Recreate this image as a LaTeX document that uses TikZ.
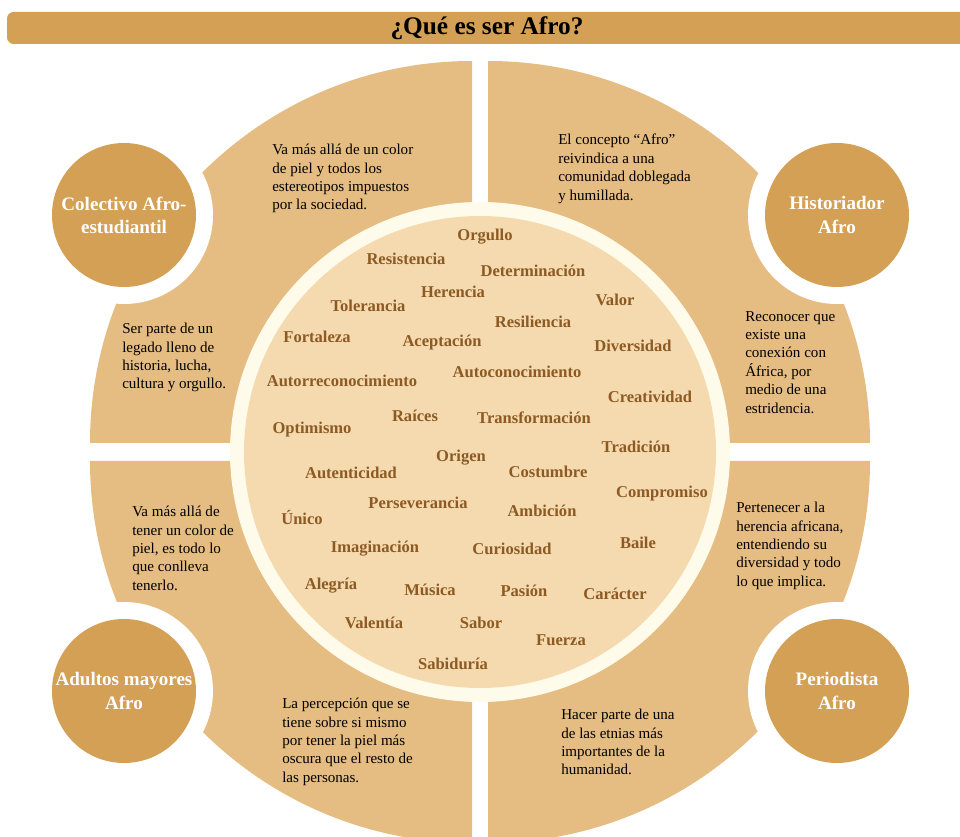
\documentclass[tikz,border=0pt]{standalone}
\usepackage{fontspec}
\setmainfont{Liberation Serif}
\definecolor{barcol}{HTML}{D4A055}
\definecolor{quadcol}{HTML}{E5BC82}
\definecolor{diskcol}{HTML}{F5DAB0}
\definecolor{ringcol}{HTML}{FFFBEA}
\definecolor{wordcol}{HTML}{8C5A22}
\begin{document}
\begin{tikzpicture}[x=0.75pt,y=0.75pt,
  badge/.style={circle,fill=barcol,minimum size=108pt,inner sep=0,text=white,align=center,
    font=\bfseries\fontsize{14.3}{17.3}\selectfont},
  word/.style={font=\bfseries\fontsize{12.4}{14}\selectfont,text=wordcol,inner sep=0},
  note/.style={font=\fontsize{11.3}{13.8}\selectfont,align=left,anchor=north west,inner sep=0}]
   \useasboundingbox (0,0) rectangle (960,-837);
   \clip (0,0) rectangle (960,-837);
   % title bar
   \fill[barcol,rounded corners=5] (7,-12) rectangle (975,-44);
   \node[font=\bfseries\fontsize{19}{22}\selectfont] (title) at (487,-28) {¿Qué es ser Afro?};
   % four quarters
   \fill[quadcol] (472,-443) -- (90,-443) arc[start angle=180,end angle=90,radius=382] -- cycle;
   \fill[quadcol] (488,-443) -- (488,-61) arc[start angle=90,end angle=0,radius=382] -- cycle;
   \fill[quadcol] (472,-461) -- (90,-461) arc[start angle=180,end angle=270,radius=382] -- cycle;
   \fill[quadcol] (488,-461) -- (870,-461) arc[start angle=0,end angle=-90,radius=382] -- cycle;
   % centre disc
   \fill[ringcol] (480,-452) circle (250);
   \fill[diskcol] (480,-452) circle (236);
   % side circles
   \foreach \x/\y in {124/215, 837/215, 124/691, 837/691}
     \fill[white] (\x,-\y) circle (89);
   \node[badge] (colectivo) at (124,-215) {Colectivo Afro-\\estudiantil};
   \node[badge] (historiador) at (837,-215) {Historiador\\Afro};
   \node[badge] (adultos) at (124,-691) {Adultos mayores\\Afro};
   \node[badge] (periodista) at (837,-691) {Periodista\\Afro};
   % texts
   \node[note] (tlA) at (272,-144) {Va más allá de un color\\de piel  y todos los\\estereotipos impuestos\\por la sociedad.};
   \node[note] (tlB) at (122,-323) {Ser parte de un\\legado lleno  de\\historia, lucha,\\cultura y orgullo.};
   \node[note] (trA) at (558,-134) {El concepto “Afro”\\reivindica a una\\comunidad doblegada\\y humillada.};
   \node[note] (trB) at (745,-311) {Reconocer que\\existe una\\conexión con\\África, por\\medio de una\\estridencia.};
   \node[note] (blA) at (132,-506) {Va más allá de\\tener un color de\\piel, es todo lo\\que conlleva\\tenerlo.};
   \node[note] (blB) at (282,-698) {La percepción que se\\tiene sobre si mismo\\por tener la piel más\\oscura que el resto de\\las personas.};
   \node[note] (brA) at (736,-502) {Pertenecer a la\\herencia africana,\\entendiendo su\\diversidad y todo\\lo que implica.};
   \node[note] (brB) at (561,-709) {Hacer parte de una\\de las etnias más\\importantes de la\\humanidad.};
   % word cloud
   \foreach \x/\y/\w [count=\i] in
     {485/237/Orgullo, 406/259/Resistencia, 533/271/Determinación,
      453/292/Herencia, 368/306/Tolerancia, 615/300/Valor,
      533/322/Resiliencia, 317/337/Fortaleza, 442/343/Aceptación,
      633/346/Diversidad, 342/381/Autorreconocimiento, 517/372/Autoconocimiento,
      650/397/Creatividad, 415/416/Raíces, 534/418/Transformación,
      312/430/Optimismo, 636/447/Tradición, 461/458/Origen,
      351/473/Autenticidad, 548/472/Costumbre, 662/494/Compromiso,
      418/503/Perseverancia, 302/517/Único, 542/511/Ambición,
      375/549/Imaginación, 512/549/Curiosidad, 638/543/Baile,
      331/586/Alegría, 430/590/Música, 524/591/Pasión,
      615/594/Carácter, 374/623/Valentía, 481/623/Sabor,
      561/640/Fuerza, 453/664/Sabiduría}
     \node[word] (w\i) at (\x,-\y) {\w};
\end{tikzpicture}
\end{document}
